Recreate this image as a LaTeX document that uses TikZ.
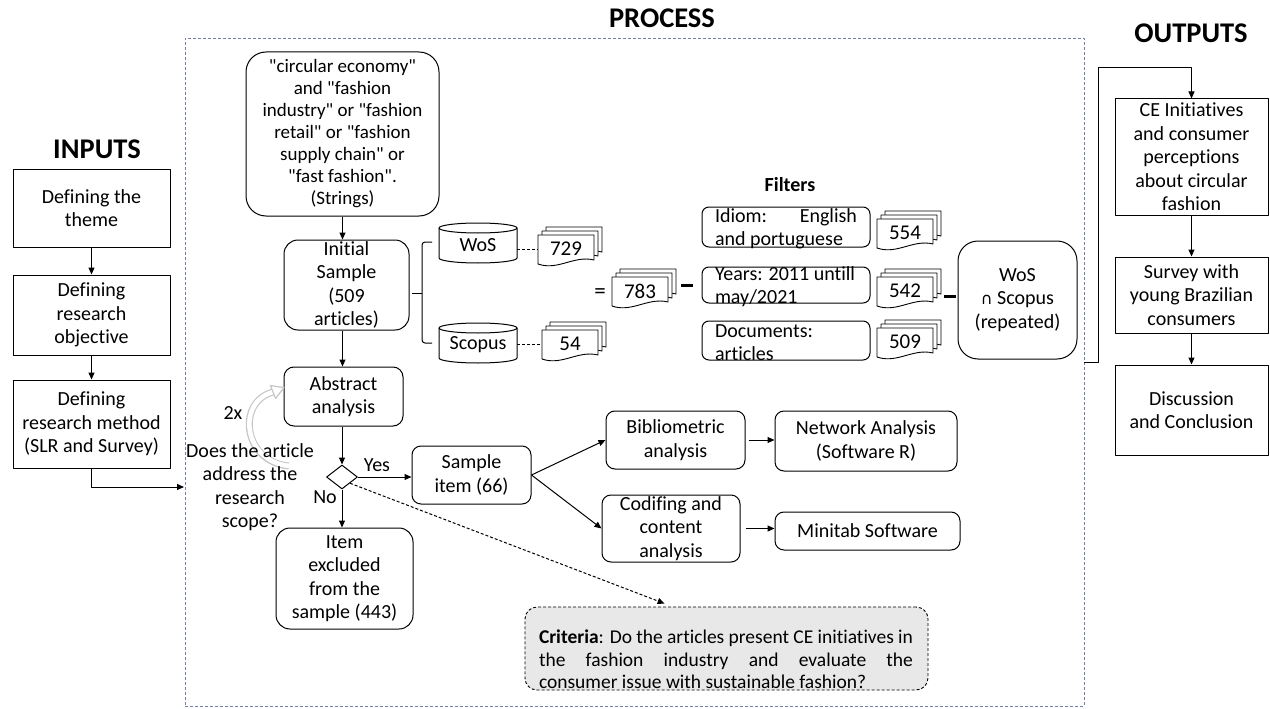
\documentclass[tikz,border=0pt]{standalone}
\usepackage{fontspec}
\setmainfont{Carlito}[Ligatures={TeXOff,NoCommon}]
\newfontfamily\dejavu{DejaVu Sans}
\usetikzlibrary{arrows.meta,shapes.geometric,calc}
\definecolor{framec}{RGB}{115,128,165}
\definecolor{critfill}{RGB}{232,232,232}
\tikzset{
  every node/.style={font=\fontsize{20}{23.5}\selectfont},
  title/.style={font=\bfseries\fontsize{28.5}{32}\selectfont, inner sep=0pt},
  sq/.style={draw, line width=1pt, align=center, inner sep=1pt},
  rbox/.style={draw, line width=1pt, rounded corners=9pt, align=center, inner sep=1pt},
  ftxt/.style={align=flush left, text width=142pt, inner sep=0pt, font=\fontsize{20}{23}\selectfont},
  arr/.style={line width=1pt, -{Triangle[length=7pt,width=6pt]}},
  dline/.style={line width=1pt, dash pattern=on 3pt off 2pt},
  bar/.style={fill=black, inner sep=0pt, minimum width=12pt, minimum height=3pt},
  frame/.style={draw=framec, dash pattern=on 3pt off 2pt, line width=0.9pt, inner sep=0pt}
}
\newcommand\cylnode[4]{%
  \begin{scope}[shift={(#2,#3)}]
    \draw[line width=1pt, fill=white] (-39,-15) -- (-39,15)
      arc[start angle=180, end angle=0, x radius=39, y radius=5] -- (39,-15)
      arc[start angle=0, end angle=-180, x radius=39, y radius=5] -- cycle;
    \draw[line width=1pt] (-39,-15) arc[start angle=180, end angle=0, x radius=39, y radius=5];
    \node[inner sep=0pt, minimum width=78pt, minimum height=36pt] (#1) at (0,2) {#4};
  \end{scope}}
\newcommand\docstack[4]{%
  \begin{scope}[shift={(#2,#3)}]
    \foreach \sh in {8,4,0} {
      \draw[line width=0.9pt, fill=white, shift={(\sh,-\sh)}] (-28,-15) -- (28,-15) -- (28,10)
        .. controls (8,5) and (-8,21) .. (-28,14) -- cycle;
    }
    \node[inner sep=0pt, minimum width=56pt, minimum height=24pt, font=\fontsize{21}{24}\selectfont] (#1) at (0,-1) {#4};
  \end{scope}}
\begin{document}
\begin{tikzpicture}[x=1pt, y=-1pt, line join=round]
\useasboundingbox (0,0) rectangle (1270,709);

% titles
\node[title, anchor=base] (tin) at (97,158) {INPUTS};
\node[title, anchor=base] (tproc) at (662,28) {PROCESS};
\node[title, anchor=base] (tout) at (1191,43) {OUTPUTS};

% process frame
\node[frame, minimum width=899pt, minimum height=668pt] (proc) at (634.5,372) {};

% inputs
\node[sq, minimum width=157pt, minimum height=78pt] (in1) at (91.5,208) {Defining the\\theme};
\node[sq, minimum width=157pt, minimum height=80pt] (in2) at (91.5,315) {Defining\\research\\objective};
\node[sq, minimum width=157pt, minimum height=88pt] (in3) at (91.5,424) {Defining\\research method\\(SLR and Survey)};
\draw[arr] (in1.south) -- (in2.north);
\draw[arr] (in2.south) -- (in3.north);
\coordinate (pin) at (184,487);
\draw[arr] (in3.south) |- (pin);

% outputs
\node[sq, minimum width=153pt, minimum height=116pt] (out1) at (1191.5,157) {CE Initiatives\\and consumer\\perceptions\\about circular\\fashion};
\node[sq, minimum width=153pt, minimum height=76pt] (out2) at (1191.5,295) {Survey with\\young Brazilian\\consumers};
\node[sq, minimum width=153pt, minimum height=90pt] (out3) at (1191.5,410) {Discussion\\and Conclusion};
\draw[arr] (out1.south) -- (out2.north);
\draw[arr] (out2.south) -- (out3.north);
\coordinate (pout) at (1084,362);
\draw[arr] (pout) -- (1098,362) -- (1098,68) -| (out1.north);

% strings and initial sample
\node[rbox, rounded corners=20pt, minimum width=193pt, minimum height=164pt, font=\fontsize{19}{22}\selectfont] (str) at (342.5,134)
  {"circular economy"\\and "fashion\\industry" or "fashion\\retail" or "fashion\\supply chain" or\\"fast fashion".\\(Strings)};
\node[rbox, rounded corners=14pt, minimum width=125pt, minimum height=90pt, inner sep=0pt] (init) at (346.5,285) {Initial\\Sample\\(509\\articles)};
\draw[arr] (str.south) -- (str.south |- init.north);

% brace
\draw[line width=1pt, rounded corners=3pt] (432,242) -- (422,242) -- (422,343) -- (432,343);
\draw[line width=1pt] (412,293) -- (422,293);

% databases
\cylnode{wos}{478}{243}{WoS}
\cylnode{scop}{478}{343}{Scopus}
\docstack{d729}{566}{250}{729}
\docstack{d54}{570}{345}{54}
\docstack{d783}{640}{292}{783}
\draw[dline] (wos.east |- d729.west) -- (d729.west);
\draw[dline] (scop.east |- d54.west) -- (d54.west);
\node[inner sep=0pt, font=\fontsize{23}{25}\selectfont] (eq) at (600,294) {=};
\node[bar] (m1) at (687,285) {};

% filters
\node[font=\bfseries\fontsize{20}{23}\selectfont] (filt) at (790,185) {Filters};
\node[rbox, rounded corners=7pt, minimum width=168pt, minimum height=40pt] (fid) at (786,227) {};
\node[ftxt] (fidt) at (786,229) {Idiom:\hfill English\\and portuguese};
\node[rbox, rounded corners=7pt, minimum width=168pt, minimum height=36pt] (fyr) at (786,285) {};
\node[ftxt] (fyrt) at (786,287) {Years: 2011 untill\\may/2021};
\node[rbox, rounded corners=7pt, minimum width=168pt, minimum height=39pt] (fdoc) at (786,340.5) {};
\node[ftxt] (fdoct) at (786,343) {Documents:\\articles};
\docstack{d554}{905}{234}{554}
\docstack{d542}{905}{292}{542}
\docstack{d509}{905}{343}{509}
\node[bar] (m2) at (950,296) {};
\node[rbox, rounded corners=20pt, minimum width=119pt, minimum height=118pt] (wsc) at (1017.5,300)
  {WoS\\{\dejavu\fontsize{16}{20}\selectfont ∩} Scopus\\(repeated)};

% screening
\node[rbox, rounded corners=10pt, minimum width=119pt, minimum height=59pt] (abs) at (343.5,396.5) {Abstract\\analysis};
\draw[arr] (str.south |- init.south) -- (str.south |- abs.north);
\node[draw, line width=1pt, diamond, minimum width=31pt, minimum height=24pt, inner sep=0pt, aspect=1.3] (dia) at (342,477) {};
\draw[arr] (dia.north |- abs.south) -- (dia.north);
\node[rbox, minimum width=119pt, minimum height=58pt] (samp) at (471.5,475) {Sample\\item (66)};
\draw[arr] (dia.east) -- (dia.east -| samp.west);
\node (yes) at (377,465) {Yes};
\node[rbox, rounded corners=14pt, minimum width=137pt, minimum height=101pt] (exc) at (344.5,578.5) {Item\\excluded\\from the\\sample (443)};
\draw[arr] (dia.south) -- (dia.south |- exc.north);
\node (no) at (325,497) {No};

% gray loop arrow
\draw[gray!45, line width=7pt] (289,466) .. controls (243,462) and (236,402) .. (273,392);
\draw[white, line width=4.6pt] (290,466) .. controls (243,462) and (236,402) .. (273,392);
\draw[gray!45, line width=1.2pt, fill=white] (270.4,385.5) -- (284,387.6) -- (275.6,398.5) -- cycle;
\node (twox) at (233,413) {2x};
\node[align=center] (q) at (250,487) {Does the article\\address the\\research\\scope?};

% analyses
\node[rbox, minimum width=139pt, minimum height=58pt] (bib) at (675.5,440) {Bibliometric\\analysis};
\node[rbox, minimum width=182pt, minimum height=60pt] (net) at (866,441) {Network Analysis\\(Software R)};
\node[rbox, minimum width=138pt, minimum height=67pt, inner sep=0pt] (cod) at (671,528.5) {Codifing and\\content\\analysis};
\node[rbox, minimum width=185pt, minimum height=38pt] (mini) at (867.5,531) {Minitab Software};
\draw[arr] (samp.east) -- (bib.west);
\draw[arr] (samp.east) -- (cod.west);
\draw[arr, shorten <=3pt] (bib.east) -- (bib.east -| net.west);
\draw[arr, shorten <=5pt] (cod.east) -- (cod.east -| mini.west);

% criteria
\node[draw, dash pattern=on 3pt off 2pt, line width=0.9pt, fill=critfill, rounded corners=12pt, minimum width=403pt, minimum height=83pt] (crit) at (726.5,648.5) {};
\node[text width=374pt, align=justify, inner sep=0pt, font=\fontsize{19.5}{22.5}\selectfont] (critt) at (726,659.5)
  {\textbf{Criteria}: Do the articles present CE initiatives in\linebreak the fashion industry and evaluate the\linebreak consumer issue with sustainable fashion?};
\coordinate (critin) at ($(crit.north west)+(140,-3)$);
\draw[arr, dash pattern=on 3pt off 2pt] (dia.south east) -- (critin);
\end{tikzpicture}
\end{document}
